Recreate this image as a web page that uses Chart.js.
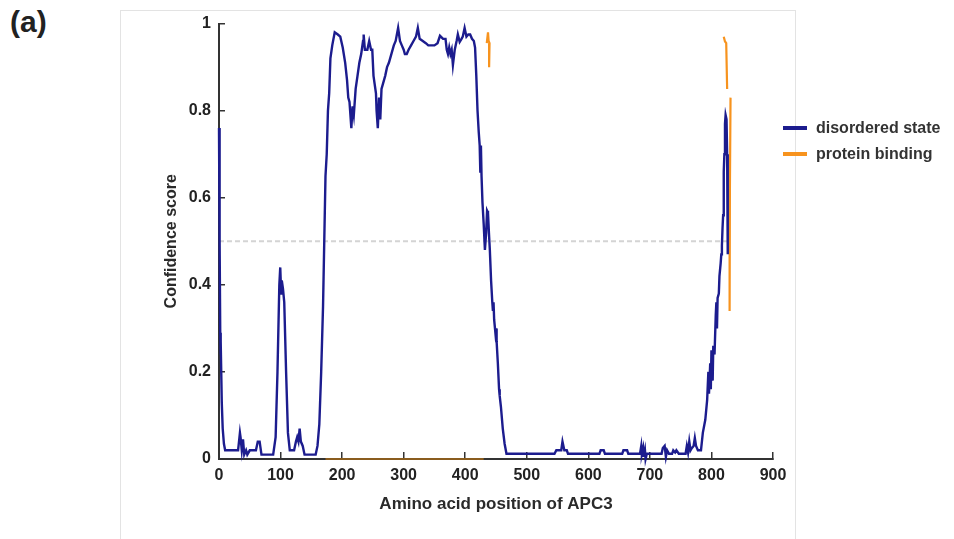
<!DOCTYPE html>
<html>
<head>
<meta charset="utf-8">
<script src="https://cdn.jsdelivr.net/npm/chart.js@4.4.1/dist/chart.umd.min.js"></script>
<style>
  html, body { margin: 0; padding: 0; background: #fff; }
  body { width: 954px; height: 539px; position: relative; overflow: hidden; font-family: "Liberation Sans", Arial, sans-serif; }
  #frame { position: absolute; left: 120px; top: 10px; width: 676px; height: 560px; border: 1px solid #e3e3e3; box-sizing: border-box; }
  #panel { position: absolute; left: 10px; top: 5px; font-size: 30px; font-weight: bold; color: #222; }
  #chart { position: absolute; left: 0; top: 0; }
  #legend { position: absolute; left: 783px; top: 115px; }
  .item { height: 26px; display: flex; align-items: center; font-size: 16px; font-weight: bold; color: #333; }
  .item span.swatch { display: inline-block; width: 24px; height: 4px; margin-right: 9px; }
</style>
</head>
<body>
<div id="frame"></div>
<div id="panel">(a)</div>
<canvas id="chart" width="954" height="539"></canvas>
<div id="legend"></div>
<script>
// ---------------------------------------------------------------
// Data (x = residue position, y = score)
// ---------------------------------------------------------------
const disorderX = [
  0, 1, 2, 2.5, 3, 4.5, 6, 8, 10, 31, 34, 35, 37, 39, 41, 44, 46, 50, 60, 63, 66, 69, 88,
  92, 95, 98, 99.5, 101, 102, 104, 106, 109, 112, 115, 122, 125, 127, 129, 131, 133, 136, 139, 157,
  160, 163, 166, 169, 171, 173, 175, 177, 179, 181, 184, 188, 193, 197, 201, 205, 208, 210, 212,
  213, 215, 217, 219, 222, 225, 228, 231, 234, 235, 237, 241, 244, 247, 249, 251, 253, 255, 256,
  258, 260, 262, 264, 266, 270, 273, 276, 280, 284, 287, 291, 294, 297, 300, 302, 305, 308, 312,
  316, 320, 323, 326, 331, 336, 340, 350, 355, 359, 364, 368, 370, 372, 374, 376, 378, 380, 383,
  386, 388, 391, 394, 396, 399, 402, 405, 408, 411, 414, 416, 418, 420, 422, 423.5, 424.5, 425.5,
  426.5, 428, 430, 432, 433, 434, 435.5, 437, 438.5, 440, 442, 444, 445, 446, 447, 449, 450, 451,
  453, 455, 456, 458, 461, 464, 467, 545, 548, 556, 558, 561, 565, 567, 618, 620, 625, 627, 655,
  657, 663, 665, 684, 686, 687, 689, 690, 692, 693, 695, 719, 721, 724, 726, 728, 731, 736, 738,
  741, 743, 747, 758, 760, 762, 764, 766, 768, 771, 773, 775, 778, 783, 786, 790, 793, 795, 796,
  798, 799, 800, 802, 803, 805, 807, 808, 809, 810, 812, 813, 815, 816, 817, 818, 819, 820, 821,
  822, 823, 824.5, 825.5, 826.5
];
const disorderY = [
  0.76, 0.50, 0.29, 0.24, 0.27, 0.13, 0.07, 0.035, 0.02, 0.02, 0.06, 0.05, 0.02, 0.045, 0.01, 0.02, 0.01, 0.02, 0.02, 0.04, 0.04, 0.01, 0.01,
  0.05, 0.20, 0.40, 0.44, 0.38, 0.41, 0.39, 0.36, 0.20, 0.06, 0.02, 0.02, 0.04, 0.05, 0.04, 0.07, 0.04, 0.03, 0.01, 0.01,
  0.03, 0.08, 0.20, 0.35, 0.50, 0.65, 0.70, 0.80, 0.84, 0.92, 0.95, 0.98, 0.975, 0.97, 0.945, 0.91, 0.87, 0.83, 0.82,
  0.80, 0.76, 0.81, 0.79, 0.85, 0.88, 0.91, 0.93, 0.96, 0.975, 0.94, 0.94, 0.96, 0.94, 0.94, 0.88, 0.86, 0.84, 0.80,
  0.76, 0.83, 0.78, 0.85, 0.86, 0.88, 0.90, 0.91, 0.93, 0.95, 0.96, 0.99, 0.96, 0.95, 0.94, 0.93, 0.93, 0.94, 0.95,
  0.96, 0.97, 0.99, 0.965, 0.96, 0.955, 0.95, 0.95, 0.955, 0.972, 0.965, 0.965, 0.94, 0.93, 0.945, 0.93, 0.94, 0.905, 0.94,
  0.96, 0.975, 0.958, 0.965, 0.97, 0.99, 0.97, 0.975, 0.975, 0.965, 0.96, 0.945, 0.88, 0.80, 0.75, 0.72, 0.66, 0.72,
  0.65, 0.59, 0.54, 0.48, 0.50, 0.52, 0.57, 0.565, 0.52, 0.48, 0.41, 0.36, 0.34, 0.36, 0.32, 0.29, 0.30, 0.27,
  0.22, 0.16, 0.145, 0.12, 0.07, 0.035, 0.012, 0.012, 0.02, 0.02, 0.04, 0.02, 0.02, 0.012, 0.012, 0.02, 0.02, 0.012, 0.012,
  0.02, 0.02, 0.012, 0.012, 0.03, 0.012, 0.025, 0.005, 0.02, 0.0, 0.012, 0.012, 0.025, 0.03, 0.005, 0.02, 0.012, 0.012, 0.02,
  0.015, 0.02, 0.012, 0.012, 0.03, 0.015, 0.04, 0.02, 0.025, 0.03, 0.048, 0.03, 0.02, 0.02, 0.06, 0.09, 0.135, 0.20, 0.15,
  0.22, 0.16, 0.25, 0.18, 0.26, 0.24, 0.33, 0.36, 0.30, 0.37, 0.38, 0.42, 0.45, 0.47, 0.49, 0.53, 0.56, 0.66, 0.70,
  0.77, 0.79, 0.78, 0.70, 0.47
];

// protein binding: null breaks the line into separate strokes
const bindingX = [173, 430, 432, 435, 437, 438, 439.5, 438.8, 439, 820, 822, 824, 825.5, 826, 831, 830, 829.5];
const bindingY = [0, 0, null, 0.955, 0.98, 0.96, 0.955, 0.90, null, 0.97, 0.959, 0.955, 0.85, null, 0.83, 0.62, 0.34];

// 0.5 threshold (dashed)
const thresholdX = [0, 828];
const thresholdY = [0.5, 0.5];

const xTicks = [0, 100, 200, 300, 400, 500, 600, 700, 800, 900];
const yTicks = [0, 0.2, 0.4, 0.6, 0.8, 1];
const yTickLabels = ['0', '0.2', '0.4', '0.6', '0.8', '1'];

const toPoints = (xs, ys) => xs.map((x, i) => ({ x: x, y: ys[i] }));

Chart.defaults.font.family = '"Liberation Sans", Arial, sans-serif';
Chart.defaults.color = '#222';

const BLUE = '#1c1c8e';
const ORANGE = '#f7931e';
const AXIS = '#333';

const chart = new Chart(document.getElementById('chart'), {
  type: 'line',
  data: {
    datasets: [
      {
        label: 'disordered state',
        data: toPoints(disorderX, disorderY),
        borderColor: BLUE,
        backgroundColor: BLUE,
        borderWidth: 2.4,
        clip: false
      },
      {
        label: 'protein binding',
        data: toPoints(bindingX, bindingY),
        borderColor: ORANGE,
        backgroundColor: ORANGE,
        borderWidth: 2.2,
        spanGaps: false,
        clip: false,
        segment: {
          borderColor: ctx => (ctx.p0.parsed.y === 0 && ctx.p1.parsed.y === 0) ? '#8a5c1e' : undefined
        }
      },
      {
        label: 'threshold',
        data: toPoints(thresholdX, thresholdY),
        borderColor: '#d4d4d4',
        borderWidth: 2,
        borderDash: [5, 3],
        clip: false
      }
    ]
  },
  options: {
    responsive: false,
    animation: false,
    layout: { padding: { left: 140, right: 181, top: 23, bottom: 0 } },
    elements: { point: { radius: 0, hoverRadius: 0 }, line: { tension: 0 } },
    plugins: { legend: { display: false }, tooltip: { enabled: false } },
    scales: {
      x: {
        type: 'linear',
        min: 0,
        max: 900,
        afterBuildTicks: s => { s.ticks = xTicks.map(v => ({ value: v })); },
        afterFit: s => { s.height = 80; },
        grid: { drawOnChartArea: false, drawTicks: true, tickLength: -7, color: AXIS, lineWidth: 1.5 },
        border: { display: true, color: AXIS, width: 2 },
        ticks: { padding: 14, color: '#222', font: { size: 16, weight: 'bold' }, maxRotation: 0 },
        title: {
          display: true,
          text: 'Amino acid position of APC3',
          color: '#2a2a2a',
          font: { size: 17, weight: 'bold' },
          padding: { top: 0, bottom: 24 }
        }
      },
      y: {
        type: 'linear',
        min: 0,
        max: 1,
        afterBuildTicks: s => { s.ticks = yTicks.map(v => ({ value: v })); },
        afterFit: s => { s.width = 79; },
        grid: { drawOnChartArea: false, drawTicks: true, tickLength: -6, color: AXIS, lineWidth: 1.5 },
        border: { display: true, color: AXIS, width: 2 },
        ticks: {
          padding: 14,
          color: '#222',
          font: { size: 16, weight: 'bold' },
          callback: (v) => yTickLabels[yTicks.indexOf(v)]
        },
        title: {
          display: true,
          text: 'Confidence score',
          color: '#2a2a2a',
          font: { size: 16, weight: 'bold' },
          padding: { top: 22, bottom: 0 }
        }
      }
    }
  }
});

// -------------------------------------------------------------
// HTML legend built from the chart's datasets
// -------------------------------------------------------------
const legendBox = document.getElementById('legend');
chart.data.datasets
  .filter(ds => ds.label !== 'threshold')
  .forEach(ds => {
    const row = document.createElement('div');
    row.className = 'item';
    row.innerHTML = `<span class="swatch" style="background:${ds.borderColor}"></span>${ds.label}`;
    legendBox.appendChild(row);
  });
</script>
</body>
</html>
